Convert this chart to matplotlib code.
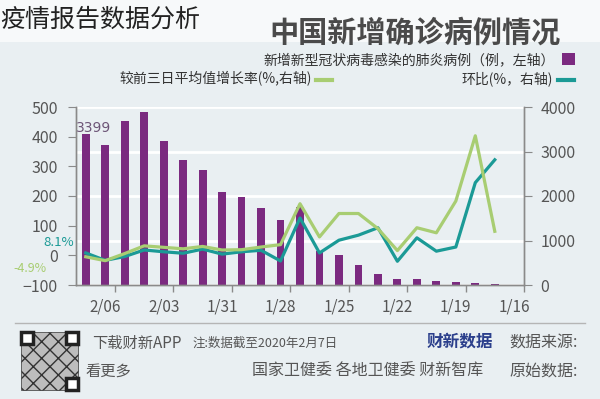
import numpy as np
import matplotlib
matplotlib.use('Agg')
import matplotlib.pyplot as plt
from matplotlib.patches import Rectangle

plt.rcParams['font.family'] = ['Noto Sans CJK SC', 'DejaVu Sans']

# datos (1/16 ... 2/07)
fechas = ['1/16', '1/17', '1/18', '1/19', '1/20', '1/21', '1/22', '1/23', '1/24', '1/25',
          '1/26', '1/27', '1/28', '1/29', '1/30', '1/31', '2/01', '2/02', '2/03', '2/04',
          '2/05', '2/06', '2/07']
casos_nuevos = [4, 17, 55, 70, 80, 145, 125, 257, 440, 680, 760, 1760, 1450, 1735, 1970,
                2100, 2585, 2820, 3230, 3880, 3690, 3143, 3399]
# lineas empiezan en 1/17
huanbi = [322, 245, 28, 14, 59, -20, 93, 68, 51, 8, 126, -19, 17, 12, 4, 21, 7, 12, 18,
          -4, -17, 8.1]
vs_tres_dias = [81, 403, 183, 76, 93, 16, 90, 141, 141, 62, 174, 36, 28, 19, 18, 30, 22,
                27, 32, 6, -18, -4.9]
etiquetas_x = ['1/16', '1/19', '1/22', '1/25', '1/28', '1/31', '2/03', '2/06']

morado = '#7b2a80'
verde_azul = '#1b9a96'
verde = '#a8cd72'
gris = '#8a8a8a'
texto = '#555555'
fondo = '#e9eff2'

W, H = 600, 399
fig = plt.figure(figsize=(6, 3.99), dpi=100, facecolor=fondo)

def fx(x):
    return x / W

def fy(y):
    return 1 - y / H

# franja blanca arriba
fig.patches.append(Rectangle((0, fy(42)), 1, 42 / H, transform=fig.transFigure,
                             facecolor='#f7f9fa', edgecolor='none', zorder=0))

ax = fig.add_axes([fx(76), fy(285), fx(524 - 76), (285 - 107) / H])
ax.set_facecolor(fondo)
x = np.arange(len(fechas))
ax.bar(x, casos_nuevos, width=0.4, color=morado, zorder=2)
ax.set_ylim(0, 4000)
ax.set_xlim(22.5, -0.5)
ax.grid(axis='y', color='white', linewidth=2, zorder=1)
ax.set_axisbelow(True)

ax.set_xticks(x[::3])
ax.set_xticklabels(etiquetas_x)
ax.set_xticks(np.arange(-0.5, 23, 3), minor=True)
ax.tick_params(axis='x', which='major', length=0, pad=10, labelsize=11, labelcolor=texto)
ax.tick_params(axis='x', which='minor', length=5, color=gris, width=1)

ax2 = ax.twinx()
ax2.yaxis.tick_left()
ax.yaxis.tick_right()
ax.set_yticks([0, 1000, 2000, 3000, 4000])
ax.set_yticklabels(['0', '1000', '2000', '3000', '4000'])
ax.tick_params(axis='y', length=6, color=gris, pad=6, labelsize=11.5, labelcolor=texto)
ax2.set_ylim(-100, 500)
ax2.set_yticks([-100, 0, 100, 200, 300, 400, 500])
ax2.tick_params(axis='y', length=6, color=gris, pad=7, labelsize=11.5, labelcolor=texto)
ax2.plot(x[1:], huanbi, color=verde_azul, linewidth=2.3, zorder=3)
ax2.plot(x[1:], vs_tres_dias, color=verde, linewidth=2.3, zorder=4)

for a in (ax, ax2):
    a.spines['top'].set_visible(False)
    for s in ('left', 'right', 'bottom'):
        a.spines[s].set_color(gris)
        a.spines[s].set_linewidth(1)

# anotaciones
ax.text(21.6, 3530, str(casos_nuevos[-1]), ha='center', va='center',
        fontsize=10, color='#6d5577', family='DejaVu Sans')
fig.text(fx(74), fy(242), '8.1%', ha='right', va='center', fontsize=9.5, color=verde_azul)
fig.text(fx(47), fy(268), '-4.9%', ha='right', va='center', fontsize=9, color=verde)

# titulos
fig.text(0, fy(20), '疫情报告数据分析', ha='left', va='center', fontsize=18, color='#222222')
fig.text(fx(415), fy(33), '中国新增确诊病例情况', ha='center', va='center', fontsize=21,
         fontweight='bold', color='#4a4a4a')

# leyenda
fig.patches.append(Rectangle((fx(562), fy(65)), 13 / W, 12 / H, transform=fig.transFigure,
                             facecolor=morado, edgecolor='none'))
fig.text(fx(555), fy(60), '新增新型冠状病毒感染的肺炎病例（例，左轴）', ha='right',
         va='center', fontsize=10, color='#333333')
fig.lines.append(plt.Line2D([fx(558), fx(574)], [fy(80), fy(80)], transform=fig.transFigure,
                            color=verde_azul, linewidth=3))
fig.text(fx(553), fy(79), '环比(%，右轴)', ha='right', va='center', fontsize=10,
         color='#333333')
fig.lines.append(plt.Line2D([fx(316), fx(332)], [fy(80), fy(80)], transform=fig.transFigure,
                            color=verde, linewidth=3))
fig.text(fx(312), fy(79), '较前三日平均值增长率(%,右轴)', ha='right', va='center',
         fontsize=10, color='#333333')

# pie
fig.lines.append(plt.Line2D([fx(15), fx(585)], [fy(323), fy(323)], transform=fig.transFigure,
                            color='#b5b5b5', linewidth=1))
fig.patches.append(Rectangle((fx(21), fy(390)), 57 / W, 58 / H, transform=fig.transFigure,
                             facecolor='#bdbdbd', edgecolor='#333333', hatch='xx',
                             linewidth=0.5))
for qx, qy in [(21, 332), (66, 332), (66, 378)]:
    fig.patches.append(Rectangle((fx(qx), fy(qy + 12)), 12 / W, 12 / H,
                                 transform=fig.transFigure, facecolor='white',
                                 edgecolor='#222222', linewidth=2.5))
fig.text(fx(137), fy(343), '下载财新APP', ha='center', va='center', fontsize=11, color=texto)
fig.text(fx(108), fy(371), '看更多', ha='center', va='center', fontsize=11, color=texto)
fig.text(fx(265), fy(343), '注:数据截至2020年2月7日', ha='center', va='center', fontsize=9,
         color=texto)
fig.text(fx(460), fy(341), '财新数据', ha='center', va='center', fontsize=12,
         fontweight='bold', color='#2b3f8c')
fig.text(fx(544), fy(343), '数据来源:', ha='center', va='center', fontsize=11.5, color=texto)
fig.text(fx(368), fy(371), '国家卫健委 各地卫健委 财新智库', ha='center', va='center',
         fontsize=11.5, color=texto)
fig.text(fx(544), fy(371), '原始数据:', ha='center', va='center', fontsize=11.5, color=texto)

fig.savefig('out.png', dpi=100, facecolor=fondo)
